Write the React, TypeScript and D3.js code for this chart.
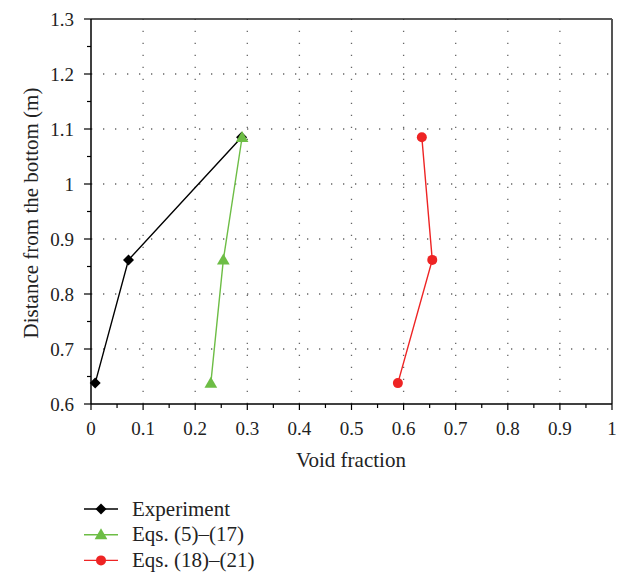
import React from "react";
import * as d3 from "d3";

// Heights (m) at which void fraction was measured/predicted
const heights = [0.638, 0.862, 1.085];
const experiment = [0.008, 0.072, 0.289];
const eqs5to17 = [0.23, 0.254, 0.29];
const eqs18to21 = [0.589, 0.655, 0.635];

const xTicks = [0, 0.1, 0.2, 0.3, 0.4, 0.5, 0.6, 0.7, 0.8, 0.9, 1];
const yTicks = [0.6, 0.7, 0.8, 0.9, 1, 1.1, 1.2, 1.3];

const seriesNames = ["Experiment", "Eqs. (5)–(17)", "Eqs. (18)–(21)"];
const seriesColors = ["#000000", "#6dbd45", "#ee2424"];

const W = 620;
const H = 573;
const FONT = "'Liberation Serif', 'Times New Roman', serif";

function Marker({ kind, x, y, color }: { kind: number; x: number; y: number; color: string }) {
  if (kind === 0) {
    const s = 5.5;
    return <path d={`M${x},${y - s}L${x + s},${y}L${x},${y + s}L${x - s},${y}Z`} fill={color} />;
  }
  if (kind === 1) {
    const sym = d3.symbol(d3.symbolTriangle, 70)();
    return <path d={sym || ""} transform={`translate(${x},${y + 1})`} fill={color} />;
  }
  return <circle cx={x} cy={y} r={5} fill={color} />;
}

export default function App() {
  const x = d3.scaleLinear().domain([0, 1]).range([91, 612]);
  const y = d3.scaleLinear().domain([0.6, 1.3]).range([404, 19]);

  const series = [experiment, eqs5to17, eqs18to21];
  const line = d3
    .line<[number, number]>()
    .x((d) => x(d[0]))
    .y((d) => y(d[1]));

  const xMinor = d3.range(0.05, 1, 0.1);
  const yMinor = d3.range(0.65, 1.3, 0.1);

  return (
    <svg
      width={W}
      height={H}
      style={{ position: "absolute", left: 0, top: 0, background: "#fff" }}
      fontFamily={FONT}
    >
      {/* dotted grid */}
      <g stroke="#666" strokeWidth={1.3} strokeDasharray="1.3 10.7">
        {xTicks.slice(1, -1).map((t) => (
          <line key={"gx" + t} x1={x(t)} x2={x(t)} y1={y(0.6)} y2={y(1.3)} />
        ))}
        {yTicks.slice(1, -1).map((t) => (
          <line key={"gy" + t} x1={x(0)} x2={x(1)} y1={y(t)} y2={y(t)} />
        ))}
      </g>

      {/* frame */}
      <line x1={x(0)} x2={x(1)} y1={y(1.3)} y2={y(1.3)} stroke="#222" strokeWidth={1.5} />
      <line x1={x(1)} x2={x(1)} y1={y(1.3)} y2={y(0.6)} stroke="#555" strokeWidth={2} />
      <line x1={x(0)} x2={x(1)} y1={y(0.6)} y2={y(0.6)} stroke="#000" strokeWidth={1.5} />
      <line x1={x(0)} x2={x(0)} y1={y(1.3)} y2={y(0.6)} stroke="#000" strokeWidth={1.5} />

      {/* ticks */}
      <g stroke="#000" strokeWidth={1.2}>
        {xTicks.map((t) => (
          <line key={"tx" + t} x1={x(t)} x2={x(t)} y1={y(0.6)} y2={y(0.6) + 6} />
        ))}
        {xMinor.map((t) => (
          <line key={"mx" + t} x1={x(t)} x2={x(t)} y1={y(0.6)} y2={y(0.6) + 4} />
        ))}
        {yTicks.map((t) => (
          <line key={"ty" + t} x1={x(0) - 7} x2={x(0)} y1={y(t)} y2={y(t)} />
        ))}
        {yMinor.map((t) => (
          <line key={"my" + t} x1={x(0) - 4} x2={x(0)} y1={y(t)} y2={y(t)} />
        ))}
      </g>

      {/* tick labels */}
      <g fontSize={19} fill="#222">
        {xTicks.map((t) => (
          <text key={"lx" + t} x={x(t)} y={435} textAnchor="middle">
            {d3.format("~g")(t)}
          </text>
        ))}
        {yTicks.map((t) => (
          <text key={"ly" + t} x={74} y={y(t) + 7} textAnchor="end">
            {d3.format("~g")(t)}
          </text>
        ))}
      </g>

      {/* axis titles */}
      <text x={351} y={467} textAnchor="middle" fontSize={21} fill="#222">
        Void fraction
      </text>
      <text
        transform={`translate(38,${213}) rotate(-90)`}
        textAnchor="middle"
        fontSize={21}
        fill="#222"
      >
        Distance from the bottom (m)
      </text>

      {/* series */}
      {series.map((vals, i) => {
        const pts: [number, number][] = vals.map((v, j) => [v, heights[j]]);
        return (
          <g key={"s" + i}>
            <path d={line(pts) || ""} fill="none" stroke={seriesColors[i]} strokeWidth={1.4} />
            {pts.map((p, j) => (
              <Marker key={j} kind={i} x={x(p[0])} y={y(p[1])} color={seriesColors[i]} />
            ))}
          </g>
        );
      })}

      {/* legend */}
      {seriesNames.map((name, i) => {
        const ly = 509 + i * 25.7;
        return (
          <g key={"lg" + i}>
            <line x1={84} x2={118} y1={ly} y2={ly} stroke={seriesColors[i]} strokeWidth={1.4} />
            <Marker kind={i} x={101} y={ly} color={seriesColors[i]} />
            <text x={132} y={ly + 6.5} fontSize={21} fill="#222">
              {name}
            </text>
          </g>
        );
      })}
    </svg>
  );
}
